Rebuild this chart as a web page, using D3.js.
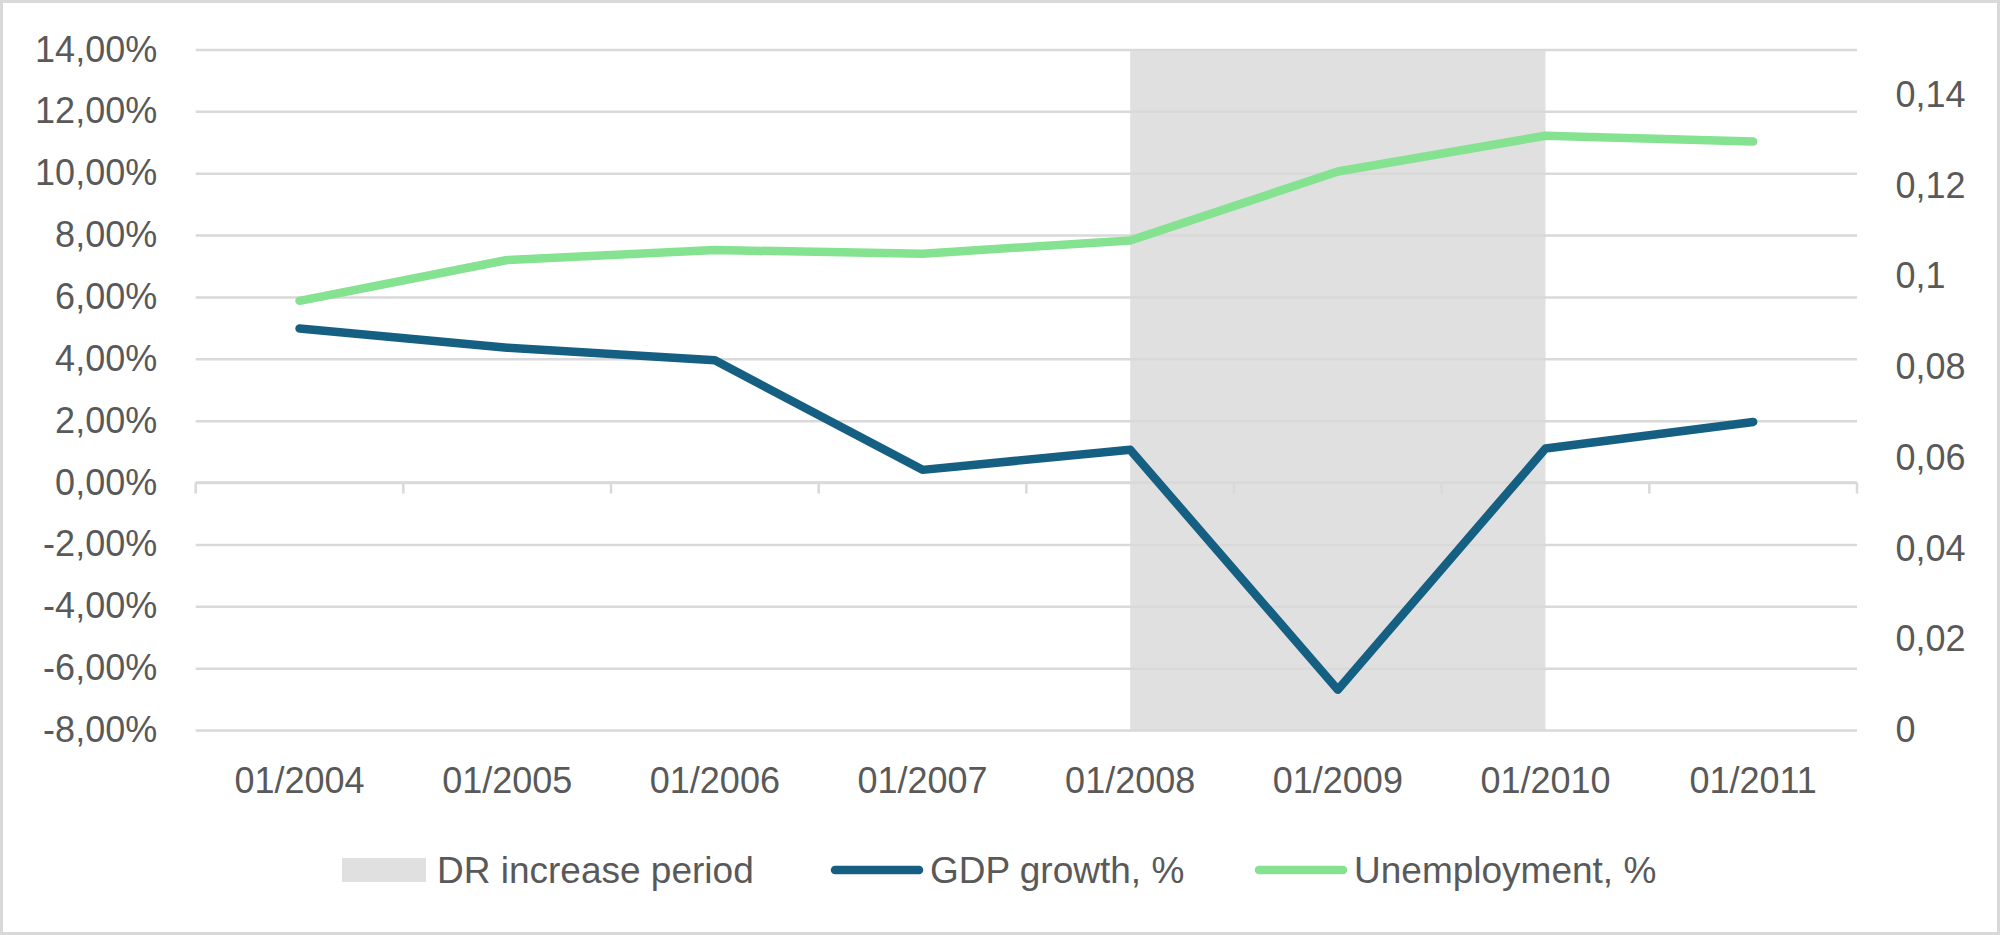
<!DOCTYPE html>
<html>
<head>
<meta charset="utf-8">
<script src="https://cdn.jsdelivr.net/npm/d3@7"></script>
<style>
  body { margin: 0; background: #fff; }
  .chart text { font-family: "Liberation Sans", Arial, sans-serif; fill: #595959; }
</style>
</head>
<body>
<div class="chart"></div>
<script>
// data
const months = ['01/2004','01/2005','01/2006','01/2007','01/2008','01/2009','01/2010','01/2011'];
const gdpGrowth = [0.0498, 0.0436, 0.0395, 0.0041, 0.0106, -0.0670, 0.0110, 0.0196];
const unemployment = [0.0946, 0.1036, 0.1058, 0.1050, 0.1079, 0.1231, 0.1310, 0.1297];
const drPeriod = ['01/2008', '01/2010'];
const leftTicks = [-0.08,-0.06,-0.04,-0.02,0,0.02,0.04,0.06,0.08,0.10,0.12,0.14];
const rightTicks = [0,0.02,0.04,0.06,0.08,0.10,0.12,0.14];
const legendLabels = ['DR increase period','GDP growth, %','Unemployment, %'];

// canvas
const width = 2000;
const height = 935;
const plot = {left: 195.7, right: 1857, top: 49.5, bottom: 730};

const colors = {shade: '#e0e0e0', gdp: '#156082', unemp: '#84e290', grid: '#d9d9d9'};

const svg = d3.select('.chart').append('svg')
    .attr('width', width)
    .attr('height', height);

// frame
svg.append('rect')
    .attr('x', 1.5).attr('y', 1.5)
    .attr('width', width - 3).attr('height', height - 3)
    .attr('fill', '#fff')
    .attr('stroke', colors.grid)
    .attr('stroke-width', 3);

// comma decimals, plain hyphen minus
const locale = d3.formatLocale({decimal: ',', thousands: ' ', grouping: [3], currency: ['', ''], minus: '-'});

const x = d3.scaleBand().domain(months).range([plot.left, plot.right]);
const y = d3.scaleLinear().domain([-0.08, 0.14]).range([plot.bottom, plot.top]);
const y2 = d3.scaleLinear().domain([0, 0.15]).range([plot.bottom, plot.top]);
const cx = d => x(d) + x.bandwidth() / 2;

// shaded period
svg.append('rect')
    .attr('x', cx(drPeriod[0]))
    .attr('y', plot.top)
    .attr('width', cx(drPeriod[1]) - cx(drPeriod[0]))
    .attr('height', plot.bottom - plot.top)
    .attr('fill', colors.shade);

// gridlines
svg.append('g')
    .attr('transform', `translate(${plot.left},0)`)
    .call(d3.axisLeft(y).tickValues(leftTicks).tickSize(-(plot.right - plot.left)).tickFormat(''))
    .call(g => g.select('.domain').remove())
    .call(g => g.selectAll('line').attr('stroke', colors.grid).attr('stroke-width', 2.5));

// x axis line at 0 with tick marks between categories
const xAxis = svg.append('g');
xAxis.append('line')
    .attr('x1', plot.left).attr('x2', plot.right)
    .attr('y1', y(0)).attr('y2', y(0))
    .attr('stroke', colors.grid).attr('stroke-width', 2.5);
xAxis.selectAll('.tick-mark')
    .data(d3.range(months.length + 1))
    .enter()
    .append('line')
    .attr('x1', i => plot.left + i * x.step())
    .attr('x2', i => plot.left + i * x.step())
    .attr('y1', y(0))
    .attr('y2', y(0) + 11)
    .attr('stroke', colors.grid).attr('stroke-width', 2.5);

// x labels at bottom
svg.append('g')
    .attr('transform', `translate(0,${plot.bottom})`)
    .call(d3.axisBottom(x).tickSize(0).tickPadding(37))
    .call(g => g.select('.domain').remove())
    .call(g => g.selectAll('text').attr('font-size', 36));

// left axis
svg.append('g')
    .attr('transform', `translate(${plot.left},0)`)
    .call(d3.axisLeft(y).tickValues(leftTicks).tickSize(0).tickPadding(38.5).tickFormat(locale.format('.2%')))
    .call(g => g.select('.domain').remove())
    .call(g => g.selectAll('text').attr('font-size', 36));

// right axis
svg.append('g')
    .attr('transform', `translate(${plot.right},0)`)
    .call(d3.axisRight(y2).tickValues(rightTicks).tickSize(0).tickPadding(38.5).tickFormat(locale.format('.2~f')))
    .call(g => g.select('.domain').remove())
    .call(g => g.selectAll('text').attr('font-size', 36));

// lines
const gdpLine = d3.line().x((d, i) => cx(months[i])).y(d => y(d));
const unempLine = d3.line().x((d, i) => cx(months[i])).y(d => y2(d));

svg.append('path')
    .datum(unemployment)
    .attr('d', unempLine)
    .attr('fill', 'none')
    .attr('stroke', colors.unemp)
    .attr('stroke-width', 8.5)
    .attr('stroke-linejoin', 'round')
    .attr('stroke-linecap', 'round');

svg.append('path')
    .datum(gdpGrowth)
    .attr('d', gdpLine)
    .attr('fill', 'none')
    .attr('stroke', colors.gdp)
    .attr('stroke-width', 8.5)
    .attr('stroke-linejoin', 'round')
    .attr('stroke-linecap', 'round');

// legend
const legendY = 870;
const legendX = [342, 831, 1255];
const legend = svg.append('g');
legendLabels.forEach(function(label, i) {
    const g = legend.append('g').attr('transform', `translate(${legendX[i]},${legendY})`);
    if (i === 0) {
        g.append('rect')
            .attr('x', 0).attr('y', -12)
            .attr('width', 84).attr('height', 24)
            .attr('fill', colors.shade);
    } else {
        g.append('line')
            .attr('x1', 4).attr('x2', 88)
            .attr('y1', 0).attr('y2', 0)
            .attr('stroke', i === 1 ? colors.gdp : colors.unemp)
            .attr('stroke-width', 8.5)
            .attr('stroke-linecap', 'round');
    }
    g.append('text')
        .attr('x', i === 0 ? 95 : 99)
        .attr('y', 0)
        .attr('dy', '0.35em')
        .attr('font-size', 37)
        .text(label);
});
</script>
</body>
</html>
